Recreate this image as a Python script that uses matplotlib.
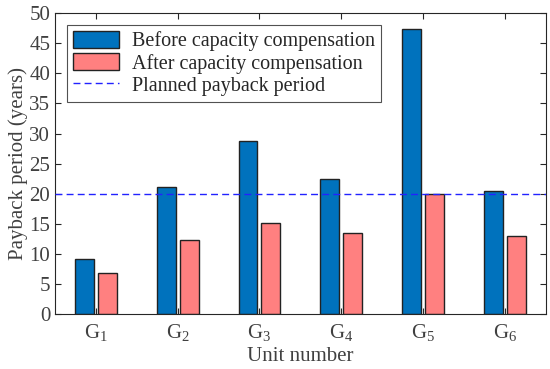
import numpy as np
import matplotlib
matplotlib.use("Agg")
import matplotlib.pyplot as plt

plt.rcParams['font.family'] = ['Liberation Serif', 'DejaVu Serif']
plt.rcParams['mathtext.fontset'] = 'custom'
plt.rcParams['mathtext.rm'] = 'Liberation Serif'

units = ["G$_{1}$", "G$_{2}$", "G$_{3}$", "G$_{4}$", "G$_{5}$", "G$_{6}$"]
before = [9.25, 21.1, 28.8, 22.4, 47.4, 20.5]
after = [6.9, 12.3, 15.1, 13.45, 19.9, 13.0]
planned = 20

x = np.arange(1, len(units) + 1)
w = 0.23

fig, ax = plt.subplots(figsize=(5.5, 3.69), dpi=100)
fig.subplots_adjust(left=0.1, right=0.992, top=0.965, bottom=0.148)

b1 = ax.bar(x - 0.14, before, w, color='#0072BD', edgecolor='#222222', linewidth=1,
            label='Before capacity compensation', zorder=2)
b2 = ax.bar(x + 0.14, after, w, color='#FF8080', edgecolor='#222222', linewidth=1,
            label='After capacity compensation', zorder=2)
ln = ax.axhline(planned, color='#2222FF', linestyle='--', dashes=(5, 3), linewidth=1,
                label='Planned payback period', zorder=3)

ax.set_xlim(0.5, 6.5)
ax.set_ylim(0, 50)
ax.set_yticks(range(0, 51, 5))
ax.set_xticks(x)
ax.set_xticklabels(units)
ax.tick_params(direction='in', top=True, right=True, labelsize=15,
               colors='#262626', labelcolor='#404040', length=4)
ax.tick_params(axis='x', pad=6)
for s in ax.spines.values():
    s.set_color('#262626')
ax.set_xlabel('Unit number', fontsize=15, color='#404040', labelpad=2)
ax.set_ylabel('Payback period (years)', fontsize=15, color='#404040', labelpad=1)

leg = ax.legend([b1, b2, ln], [b1.get_label(), b2.get_label(), ln.get_label()],
                loc='upper left', fontsize=14.5, frameon=True, fancybox=False,
                edgecolor='#262626', borderpad=0.3, labelspacing=0.1,
                handlelength=2.3, handleheight=0.9, handletextpad=0.6,
                borderaxespad=0.6)
leg.get_frame().set_linewidth(0.8)
for t in leg.get_texts():
    t.set_color('#262626')

fig.savefig('out.png', dpi=100)
